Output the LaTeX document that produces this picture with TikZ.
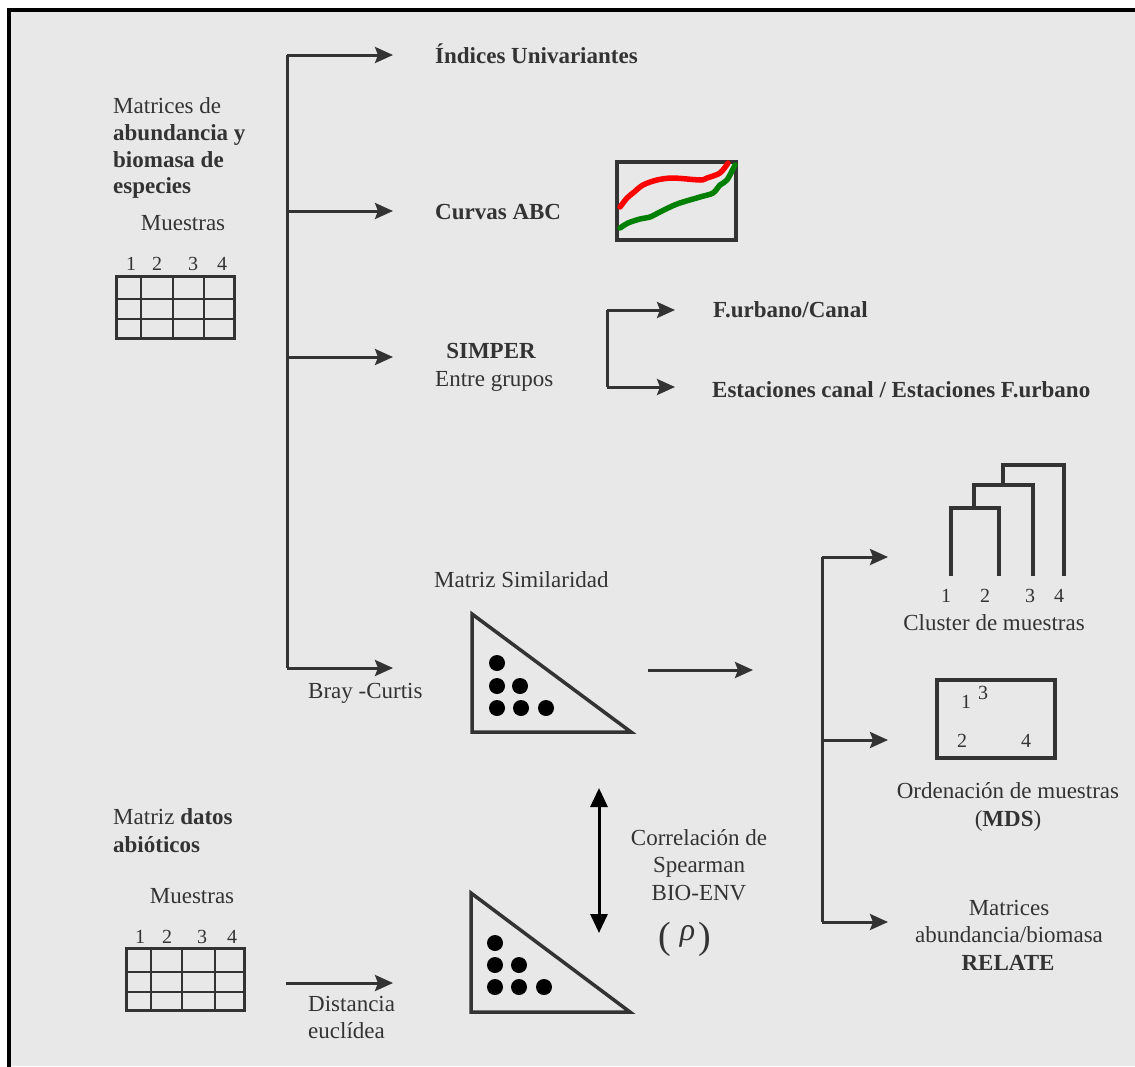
\documentclass[tikz,border=0pt]{standalone}
\usepackage{fontspec}
\setmainfont{Liberation Serif}
\usetikzlibrary{arrows.meta}
\definecolor{ink}{HTML}{333333}
\definecolor{bgray}{HTML}{E8E8E8}
\definecolor{abcred}{HTML}{FF0000}
\definecolor{abcgreen}{HTML}{008000}
\begin{document}
\begin{tikzpicture}[x=1pt,y=-1pt,
  txt/.style={inner sep=0pt, text=ink, font=\fontsize{23}{27}\selectfont},
  btxt/.style={txt, font=\fontsize{23}{27}\selectfont\bfseries},
  numtxt/.style={inner sep=0pt, text=ink, font=\fontsize{20}{24}\selectfont, anchor=base},
  conn/.style={draw=ink, line width=3pt, -{Stealth[length=18pt,width=16pt,inset=3pt]}},
  trunk/.style={draw=ink, line width=3pt},
  gridout/.style={draw=ink, line width=3pt},
  gridin/.style={draw=ink, line width=1.6pt},
  tri/.style={draw=ink, line width=3.5pt, line join=miter},
  dot/.style={fill=black},
  dendro/.style={draw=ink, line width=3.5pt},
  dbl/.style={draw=black, line width=3pt, {Triangle[length=19pt,width=17pt]}-{Triangle[length=19pt,width=17pt]}}
]
\useasboundingbox (0,0) rectangle (1135,1066);
% frame
\fill[white] (0,0) rectangle (1135,1066);
\fill[bgray] (9,10) rectangle (1135,1066);
\draw[black, line width=4pt] (9,1068) -- (9,10) -- (1137,10);

% ---------- top-left text ----------
\node[txt, anchor=base west] (m1) at (113,113) {Matrices de};
\node[btxt, anchor=base west] (m2) at (113,140) {abundancia y};
\node[btxt, anchor=base west] (m3) at (113,167) {biomasa de};
\node[btxt, anchor=base west] (m4) at (113,193) {especies};
\node[txt, anchor=base] (mu1) at (183,230) {Muestras};
\node[numtxt] (n11) at (131,270) {1};
\node[numtxt] (n12) at (157,270) {2};
\node[numtxt] (n13) at (193,270) {3};
\node[numtxt] (n14) at (222,270) {4};
% grid 1
\draw[gridin] (116,299) -- (234,299) (116,319) -- (234,319)
  (141,276) -- (141,338) (173,276) -- (173,338) (204,276) -- (204,338);
\draw[gridout] (116,276) rectangle (234,338);

% ---------- main trunk ----------
\coordinate (tk0) at (287,55);
\coordinate (tk1) at (287,211);
\coordinate (tk2) at (287,357);
\coordinate (tk3) at (287,668);
\coordinate (e0) at (393,55);
\coordinate (e1) at (393,211);
\coordinate (e2) at (393,357);
\coordinate (e3) at (393,668);
\draw[trunk] (tk0) -- (tk3);
\draw[conn] (tk0) -- (e0);
\draw[conn] (tk1) -- (e1);
\draw[conn] (tk2) -- (e2);
\draw[conn] (tk3) -- (e3);

\node[btxt, anchor=base west] (ind) at (435,63) {Índices Univariantes};
\node[btxt, anchor=base west] (abc) at (435,219) {Curvas ABC};
\node[btxt, anchor=base] (simp) at (491,358) {SIMPER};
\node[txt, anchor=base west] (entre) at (435,386) {Entre grupos};
\node[txt, anchor=base west] (bray) at (308,698) {Bray -Curtis};

% ABC plot
\draw[draw=ink, line width=3.5pt] (617,162) rectangle (736,240);
\draw[abcred, line width=5.5pt, line cap=round] plot[smooth, tension=0.5] coordinates
  {(620,207) (627,198) (633,193) (643,185) (657,180) (673,178) (700,180) (707,178) (720,173) (728,163)};
\draw[abcgreen, line width=5.5pt, line cap=round] plot[smooth, tension=0.5] coordinates
  {(620,228) (628,223) (640,219) (650,217) (660,212) (677,204) (700,197) (713,193) (720,185) (727,180) (735,165)};

% SIMPER branches
\coordinate (s0) at (607,310);
\coordinate (s1) at (607,387);
\coordinate (se0) at (675,310);
\coordinate (se1) at (675,387);
\draw[trunk] (s0) -- (s1);
\draw[conn] (s0) -- (se0);
\draw[conn] (s1) -- (se1);
\node[btxt, anchor=base west] (furb) at (713,317) {F.urbano/Canal};
\node[btxt, anchor=base west] (est) at (712,397) {Estaciones canal / Estaciones F.urbano};

% similarity matrix
\node[txt, anchor=base west] (msim) at (434,587) {Matriz Similaridad};
\draw[tri] (472,614) -- (472,732) -- (631,732) -- cycle;
\foreach \p in {(497,663),(497,686),(520,686),(497,708),(521,708),(546,708)}
  \fill[dot] \p circle (8);
\coordinate (ms0) at (648,670);
\coordinate (ms1) at (753,670);
\draw[conn] (ms0) -- (ms1);

% right trunk
\coordinate (r0) at (822,557);
\coordinate (r1) at (822,740);
\coordinate (r2) at (822,922);
\coordinate (re0) at (888,557);
\coordinate (re1) at (888,740);
\coordinate (re2) at (888,922);
\draw[trunk] (r0) -- (r2);
\draw[conn] (r0) -- (re0);
\draw[conn] (r1) -- (re1);
\draw[conn] (r2) -- (re2);

% dendrogram
\draw[dendro] (951,576) -- (951,508) -- (999,508) -- (999,576);
\draw[dendro] (974,508) -- (974,485) -- (1033,485) -- (1033,576);
\draw[dendro] (1003,485) -- (1003,465) -- (1064,465) -- (1064,576);
\node[numtxt] (d1) at (946,602) {1};
\node[numtxt] (d2) at (985,602) {2};
\node[numtxt] (d3) at (1030,602) {3};
\node[numtxt] (d4) at (1059,602) {4};
\node[txt, anchor=base] (clus) at (994,630) {Cluster de muestras};

% MDS
\draw[draw=ink, line width=3.5pt] (937,680) rectangle (1055,758);
\node[numtxt] (o1) at (966,708) {1};
\node[numtxt] (o3) at (983,699) {3};
\node[numtxt] (o2) at (962,747) {2};
\node[numtxt] (o4) at (1026,747) {4};
\node[txt, anchor=base] (ord1) at (1008,798) {Ordenación de muestras};
\node[txt, anchor=base] (ord2) at (1008,826) {(\textbf{MDS})};

% RELATE
\node[txt, anchor=base] (rel1) at (1009,915) {Matrices};
\node[txt, anchor=base] (rel2) at (1009,942) {abundancia/biomasa};
\node[btxt, anchor=base] (rel3) at (1008,970) {RELATE};

% ---------- bottom-left ----------
\node[txt, anchor=base west] (ab1) at (113,824) {Matriz \textbf{datos}};
\node[btxt, anchor=base west] (ab2) at (113,852) {abióticos};
\node[txt, anchor=base] (mu2) at (192,903) {Muestras};
\node[numtxt] (n21) at (140,943) {1};
\node[numtxt] (n22) at (167,943) {2};
\node[numtxt] (n23) at (202,943) {3};
\node[numtxt] (n24) at (232,943) {4};
\draw[gridin] (126,972) -- (244,972) (126,992) -- (244,992)
  (151,948) -- (151,1010) (182,948) -- (182,1010) (215,948) -- (215,1010);
\draw[gridout] (126,948) rectangle (244,1010);

\coordinate (eu0) at (286,983);
\coordinate (eu1) at (393,983);
\draw[conn] (eu0) -- (eu1);
\node[txt, anchor=base west] (dist1) at (308,1011) {Distancia};
\node[txt, anchor=base west] (dist2) at (308,1038) {euclídea};

% abiotic distance matrix
\draw[tri] (471,893) -- (471,1012) -- (630,1012) -- cycle;
\foreach \p in {(495,943),(495,965),(519,965),(495,987),(519,987),(544,987)}
  \fill[dot] \p circle (8);

% correlation
\coordinate (c0) at (599,788);
\coordinate (c1) at (599,933);
\draw[dbl] (c0) -- (c1);
\node[txt, anchor=base] (cor1) at (699,845) {Correlación de};
\node[txt, anchor=base] (cor2) at (699,872) {Spearman};
\node[txt, anchor=base] (cor3) at (699,900) {BIO-ENV};
\node[inner sep=0pt, text=ink, font=\fontsize{38}{40}\selectfont, anchor=base west] (rho) at (658,948)
  {(\hspace{9pt}\raisebox{8pt}{\fontsize{32}{34}\selectfont\itshape ρ}\hspace{3pt})};
\end{tikzpicture}
\end{document}
